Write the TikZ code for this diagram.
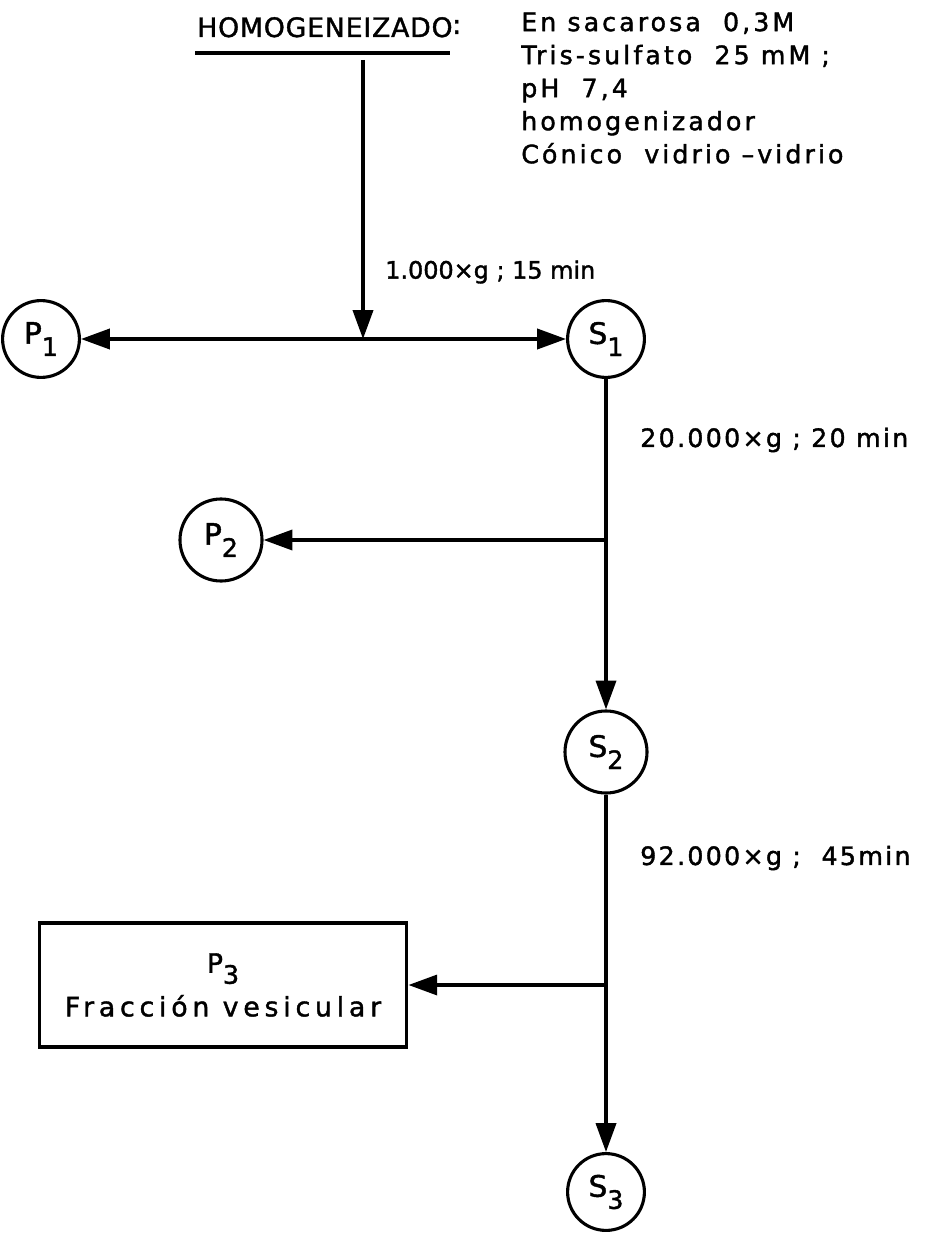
\documentclass[tikz,border=0pt]{standalone}
\usepackage{fontspec}
\setmainfont{DejaVu Sans}[FakeBold=1.5]
\usetikzlibrary{arrows.meta,positioning}
\newcommand{\idx}[1]{\raisebox{-0.75ex}{\fontsize{18}{18}\selectfont #1}}
\newcommand{\wide}[1]{\addfontfeatures{LetterSpace=#1}}
\tikzset{
  frac/.style={circle, draw, line width=2.2pt, minimum size=1.92cm, inner sep=0pt,
    font=\fontsize{21}{22}\selectfont},
  flow/.style={line width=2.5pt, -{Triangle[length=0.72cm,width=0.5cm]}},
  cond/.style={anchor=west, inner sep=0pt, font=\fontsize{18}{20}\selectfont\wide{9}},
}

\begin{document}
\begin{tikzpicture}[x=0.025cm, y=-0.025cm]
  % page frame in pixel units of the scan
  \useasboundingbox (0,0) rectangle (929,1233);
  % heading and medium
  \node[anchor=base west, inner sep=0pt, font=\fontsize{19}{20}\selectfont\wide{3}] (hom) at (197,37) {HOMOGENEIZADO};
  \node[anchor=base west, inner sep=0pt, font=\fontsize{19}{20}\selectfont] (colon) at (452,34) {:};
  \draw[line width=2.8pt] (195,53) -- (450,53);
  \node[anchor=north west, align=left, inner sep=0pt, font=\fontsize{18}{23.5}\selectfont\wide{12}] (medio) at (521,12)
    {En sacarosa\ \ 0,3M\\Tris-sulfato\ \ 25 mM ;\\pH\ \ 7,4\\homogenizador\\Cónico\ \ vidrio –vidrio};
  % fractions
  \node[frac] (P1) at (41,339) {P\idx{1}};
  \node[frac] (S1) at (606,339) {S\idx{1}};
  \node[frac, minimum size=2.05cm] (P2) at (221,540) {P\idx{2}};
  \node[frac, minimum size=2.05cm] (S2) at (606,752) {S\idx{2}};
  \node[draw, line width=2.5pt, minimum width=9.18cm, minimum height=3.1cm, align=center,
    font=\fontsize{19}{31}\selectfont\wide{18}] (P3) at (223,985) {P\idx{3}\\Fracción vesicular};
  \node[frac] (S3) at (606,1192) {S\idx{3}};
  % branch points
  \coordinate (top) at (363,60);
  \coordinate (j1) at (363,339);
  \coordinate (j2) at (606,540);
  \coordinate (j3) at (606,985);
  % connectors
  \draw[flow] (top) -- (j1);
  \draw[flow] (j1) -- (P1);
  \draw[flow] (j1) -- (S1);
  \draw[flow] (S1) -- (S2);
  \draw[flow] (j2) -- (P2);
  \draw[flow] (S2) -- (S3);
  \draw[flow] (j3) -- (P3);
  % centrifugation conditions
  \node[cond, font=\fontsize{17}{20}\selectfont] (c1) at (385,272) {1.000×g ; 15 min};
  \node[cond] (c2) at (640,440) {20.000×g ; 20 min};
  \node[cond] (c3) at (640,858) {92.000×g ;\ \ 45min};
\end{tikzpicture}
\end{document}
